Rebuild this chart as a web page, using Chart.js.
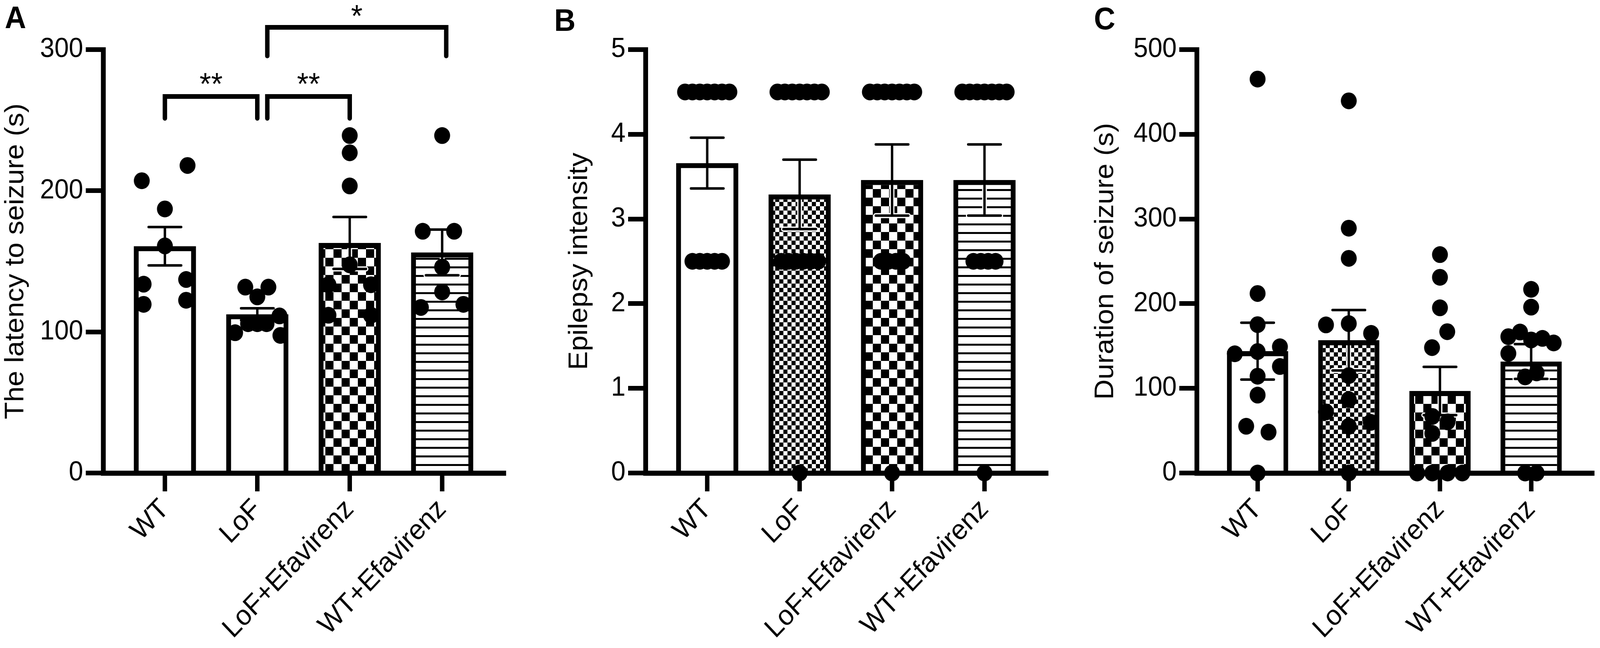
<!DOCTYPE html>
<html>
<head>
<meta charset="utf-8">
<script src="https://cdn.jsdelivr.net/npm/chart.js@4.4.0/dist/chart.umd.min.js"></script>
<style>
html,body{margin:0;padding:0;background:#fff;overflow:hidden;font-family:"Liberation Sans",Arial,sans-serif}
#stage{position:absolute;left:0;top:0;width:4328px;height:1659px;transform-origin:0 0}
.panel{position:absolute;top:0;height:1659px}
.tag{position:absolute;font-weight:bold;font-size:80px;line-height:80px;color:#000}
</style>
</head>
<body>
<div id="stage">
<div class="tag" style="left:13px;top:5px">A</div>
<div class="tag" style="left:1499px;top:12px">B</div>
<div class="tag" style="left:2959px;top:8px">C</div>
<div class="panel" style="left:0;width:1525px"><canvas id="chartA"></canvas></div>
<div class="panel" style="left:1525px;width:1423px"><canvas id="chartB"></canvas></div>
<div class="panel" style="left:2948px;width:1380px"><canvas id="chartC"></canvas></div>
</div>
<script>
// the figure is laid out at 4328 px; squeeze it into the actual viewport width
const stage=document.getElementById('stage');
const sx=Math.min(1,window.innerWidth/4328);
stage.style.transform='scale('+sx+',1)';

const FONT='"Liberation Sans", Arial, sans-serif';
const categories=['WT','LoF','LoF+Efavirenz','WT+Efavirenz'];

// ── A: latency to seizure ──
const latencyTicks=[0,100,200,300];
const latencyMean=[160.7,112.5,163.0,156.3];
const latencySem=[13.6,4.2,18.4,16.2];
const latencyValues=[
  [207.1,217.9,187.1,160.9,133.8,137.1,119.5,122.4],
  [131.7,131.7,124.8,111.3,105.8,105.8,105.8,99.4,97.5],
  [239.1,226.9,203.4,147.5,133.4,133.4,111.8,111.8],
  [239.1,171.3,171.3,145.9,128.3,117.3,119.5]
];
const latencyJitter=[
  [-0.25,0.245,0,0,-0.23,0.23,-0.23,0.23],
  [-0.13,0.12,0,0.24,-0.1,0,0.1,-0.24,0.25],
  [0,0,0,0,-0.23,0.23,-0.23,0.23],
  [0,-0.21,0.13,0,0,-0.23,0.23]
];
// significance brackets (category index / axis value)
const sigFrom=[0,1.108,1.108];
const sigTo=[1,2,3.044];
const sigLevel=[266.8,266.8,315.8];
const sigLegEnd=[251.3,251.3,295.5];
const sigText=['**','**','*'];
const sigTextAt=[279.5,279.5,327.4];

// ── B: epilepsy intensity ──
const intensityTicks=[0,1,2,3,4,5];
const intensityMean=[3.66,3.29,3.46,3.46];
const intensitySem=[0.30,0.41,0.42,0.42];
const intensityValues=[
  [4.5,4.5,4.5,4.5,4.5,4.5,4.5,2.5,2.5,2.5,2.5,2.5],
  [4.5,4.5,4.5,4.5,4.5,4.5,4.5,2.5,2.5,2.5,2.5,2.5,2.5,0],
  [4.5,4.5,4.5,4.5,4.5,4.5,4.5,2.5,2.5,2.5,2.5,0],
  [4.5,4.5,4.5,4.5,4.5,4.5,4.5,2.5,2.5,2.5,2.5,0]
];
const intensityJitter=[
  [-0.24,-0.16,-0.08,0,0.08,0.16,0.24,-0.16,-0.08,0,0.08,0.16],
  [-0.24,-0.16,-0.08,0,0.08,0.16,0.24,-0.2,-0.12,-0.04,0.04,0.12,0.2,0],
  [-0.24,-0.16,-0.08,0,0.08,0.16,0.24,-0.12,-0.04,0.04,0.12,0],
  [-0.24,-0.16,-0.08,0,0.08,0.16,0.24,-0.12,-0.04,0.04,0.12,0]
];

// ── C: duration of seizure ──
const durationTicks=[0,100,200,300,400,500];
const durationMean=[143.9,156.8,96.9,131.7];
const durationSem=[33.6,35.7,28.5,20.5];
const durationValues=[
  [465.2,212.0,175.2,140.8,143.4,149.1,125.8,114.3,92.0,55.2,48.3,0],
  [439.5,289.1,253.5,174.9,176.4,164.9,115.0,86.7,72.1,55.2,59.8,0],
  [257.9,231.1,195.1,166.9,148.1,66.8,60.4,46.8,0,0,0,0],
  [216.9,195.9,161.0,166.5,157.1,159.0,153.6,141.2,113.5,118.2,0,0]
];
const durationJitter=[
  [0,0,0,-0.25,0,0.245,0.245,0,0,-0.125,0.12,0],
  [0,0,0,-0.25,0,0.245,0,0,-0.25,0,0.24,0],
  [0,0,0,0.08,-0.087,-0.084,0.083,-0.084,-0.25,-0.084,0.084,0.245],
  [0,0,-0.25,-0.122,0,0.124,0.247,-0.25,-0.066,0.06,-0.066,0.06]
];

// bar fill patterns
function makePattern(kind){
  if(kind==='white') return '#fff';
  const c=document.createElement('canvas'), g=c.getContext('2d');
  if(kind==='checkSmall'||kind==='checkLarge'){
    const s=kind==='checkSmall'?11:22;
    c.width=c.height=2*s;
    g.fillStyle='#fff';g.fillRect(0,0,2*s,2*s);
    g.fillStyle='#000';g.fillRect(0,0,s,s);g.fillRect(s,s,s,s);
  }else{
    c.width=22;c.height=22;
    g.fillStyle='#fff';g.fillRect(0,0,22,22);
    g.fillStyle='#000';g.fillRect(0,0,22,5);
  }
  return g.createPattern(c,'repeat');
}

function errorBarPlugin(means,sems){
  return {id:'errorBars',afterDatasetDraw(chart,args){
    if(args.meta.type!=='bar')return;
    const ctx=chart.ctx,x=chart.scales.x,y=chart.scales.y,area=chart.chartArea;
    means.forEach((m,i)=>{
      const px=x.getPixelForValue(i),top=y.getPixelForValue(m+sems[i]),bot=y.getPixelForValue(m-sems[i]),barTop=y.getPixelForValue(m);
      const path=()=>{ctx.beginPath();ctx.moveTo(px-44,top);ctx.lineTo(px+44,top);ctx.moveTo(px,top);ctx.lineTo(px,bot);ctx.moveTo(px-44,bot);ctx.lineTo(px+44,bot);};
      ctx.save();
      ctx.lineCap='round';
      // white halo only inside the bar
      ctx.beginPath();ctx.rect(area.left,barTop+13,area.width,area.bottom-barTop-13);ctx.clip();
      ctx.strokeStyle='#fff';ctx.lineWidth=13;path();ctx.stroke();
      ctx.restore();
      ctx.save();
      ctx.lineCap='round';ctx.strokeStyle='#000';ctx.lineWidth=6.5;path();ctx.stroke();
      ctx.restore();
    });
  }};
}

const bracketPlugin={id:'brackets',afterDraw(chart){
  const ctx=chart.ctx,x=chart.scales.x,y=chart.scales.y;
  ctx.save();
  ctx.strokeStyle='#000';ctx.fillStyle='#000';ctx.lineWidth=12;ctx.lineCap='round';ctx.lineJoin='miter';
  sigFrom.forEach((f,i)=>{
    const x1=x.getPixelForValue(f),x2=x.getPixelForValue(sigTo[i]);
    const yl=y.getPixelForValue(sigLevel[i]),ye=y.getPixelForValue(sigLegEnd[i]);
    ctx.beginPath();ctx.moveTo(x1,ye);ctx.lineTo(x1,yl);ctx.lineTo(x2,yl);ctx.lineTo(x2,ye);ctx.stroke();
    ctx.font='80px '+FONT;ctx.textAlign='center';ctx.textBaseline='alphabetic';
    const m=ctx.measureText(sigText[i]);
    const cy=y.getPixelForValue(sigTextAt[i]);
    ctx.fillText(sigText[i],(x1+x2)/2,cy+(m.actualBoundingBoxAscent-m.actualBoundingBoxDescent)/2);
  });
  ctx.restore();
}};

function axisStyle(){
  return {
    grid:{drawOnChartArea:false,drawTicks:true,offset:false,tickLength:47,lineWidth:12,tickWidth:12,color:'#000',tickColor:'#000'},
    border:{display:true,width:13,color:'#000'}
  };
}

function buildPanel(id,o){
  const pts=[];
  o.values.forEach((vals,i)=>vals.forEach((v,k)=>pts.push({x:i+o.jitter[i][k],y:v})));
  return new Chart(document.getElementById(id),{
    type:'bar',
    data:{datasets:[
      {type:'scatter',data:pts,order:1,pointRadius:21.5,pointHoverRadius:21.5,pointBackgroundColor:'#000',pointBorderWidth:0,clip:false},
      {type:'bar',data:o.means.map((m,i)=>({x:i,y:m})),order:2,backgroundColor:o.fills.map(makePattern),
       borderColor:'#000',borderWidth:13,borderSkipped:'start',barPercentage:0.672,categoryPercentage:1}
    ]},
    options:{
      responsive:true,maintainAspectRatio:false,animation:false,events:[],devicePixelRatio:1,
      layout:{padding:{top:127,left:0,right:o.padRight,bottom:0}},
      plugins:{legend:{display:false},tooltip:{enabled:false}},
      scales:{
        x:Object.assign(axisStyle(),{
          type:'linear',min:-0.668,max:3.668,offset:false,
          afterBuildTicks:a=>{a.ticks=categories.map((c,i)=>({value:i}));},
          afterFit:s=>{s.height=448;},
          ticks:{callback:v=>categories[v],autoSkip:false,maxRotation:45,minRotation:45,padding:4,color:'#000',font:{family:FONT,size:72}}
        }),
        y:Object.assign(axisStyle(),{
          type:'linear',min:0,max:o.ticks[o.ticks.length-1],
          afterBuildTicks:a=>{a.ticks=o.ticks.map(v=>({value:v}));},
          afterFit:s=>{s.width=o.axisWidth;},
          ticks:{padding:7,color:'#000',font:{family:FONT,size:70}},
          title:{display:true,text:o.title,color:'#000',font:{family:FONT,size:72},padding:0}
        })
      }
    },
    plugins:[errorBarPlugin(o.means,o.sems)].concat(o.extra||[])
  });
}

buildPanel('chartA',{means:latencyMean,sems:latencySem,values:latencyValues,jitter:latencyJitter,ticks:latencyTicks,
  title:'The latency to seizure (s)',fills:['white','white','checkLarge','stripes'],axisWidth:279,padRight:162,extra:[bracketPlugin]});
buildPanel('chartB',{means:intensityMean,sems:intensitySem,values:intensityValues,jitter:intensityJitter,ticks:intensityTicks,
  title:'Epilepsy intensity',fills:['white','checkSmall','checkLarge','stripes'],axisWidth:221,padRight:118});
buildPanel('chartC',{means:durationMean,sems:durationSem,values:durationValues,jitter:durationJitter,ticks:durationTicks,
  title:'Duration of seizure (s)',fills:['white','checkSmall','checkLarge','stripes'],axisWidth:289,padRight:7});
</script>
</body>
</html>
